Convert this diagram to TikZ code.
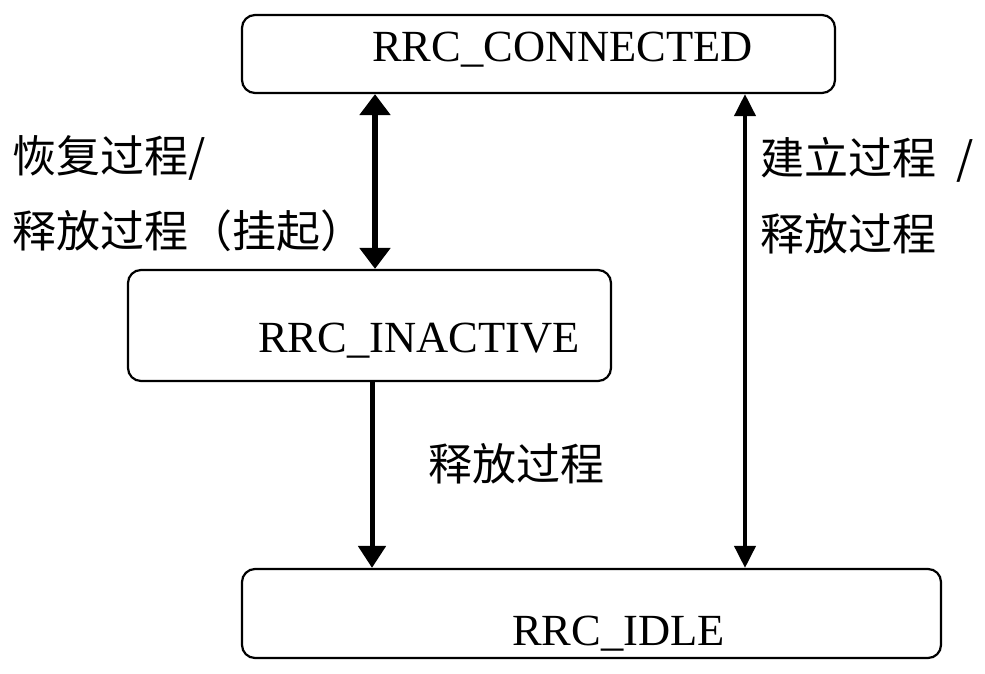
\documentclass[tikz,border=0pt]{standalone}
\usepackage{fontspec}
\setmainfont{Liberation Serif}
\newfontfamily\cjk{Noto Sans CJK SC}
\usetikzlibrary{arrows.meta}
\begin{document}
\begin{tikzpicture}[x=1pt,y=-1pt,
  state/.style={draw,line width=2.2pt,rounded corners=13pt,inner sep=0pt},
  lbl/.style={inner sep=0pt,anchor=base west,font=\fontsize{44.5}{50}\selectfont},
  zh/.style={inner sep=0pt,anchor=base west,font=\cjk\fontsize{44}{50}\selectfont},
  conn/.style={line width=#1}]
\useasboundingbox (0,0) rectangle (985,674);
% boxes
\node[state,minimum width=593pt,minimum height=78pt] (top) at (538.5,54) {};
\node[state,minimum width=483pt,minimum height=111pt] (mid) at (369.5,325.5) {};
\node[state,minimum width=699pt,minimum height=89pt] (bot) at (591.5,613.5) {};
% state names
\node[lbl] (tt) at (372,62) {RRC\_CONNECTED};
\node[lbl] (mt) at (258,352) {RRC\_INACTIVE};
\node[lbl] (bt) at (512,645) {RRC\_IDLE};
% connector x positions
\coordinate (xa) at (375,0);
\coordinate (xb) at (372,0);
\coordinate (xc) at (745,0);
\draw[line width=6pt,{Triangle[width=30pt,length=21pt]}-{Triangle[width=30pt,length=21pt]}]
  (top.south -| xa) -- (mid.north -| xa);
\draw[line width=5pt,-{Triangle[width=27pt,length=22pt]}]
  (mid.south -| xb) -- (bot.north -| xb);
\draw[line width=4pt,{Triangle[width=21pt,length=22pt]}-{Triangle[width=21pt,length=22pt]}]
  (top.south -| xc) -- (bot.north -| xc);
% labels
\node[zh] (l1) at (12,172) {恢复过程/};
\node[zh] (l2) at (12,247) {释放过程（挂起）};
\node[zh] (r1) at (760,175) {建立过程\hspace{20pt}/};
\node[zh] (r2) at (760,250) {释放过程};
\node[zh] (m1) at (428,480) {释放过程};
\end{tikzpicture}
\end{document}
